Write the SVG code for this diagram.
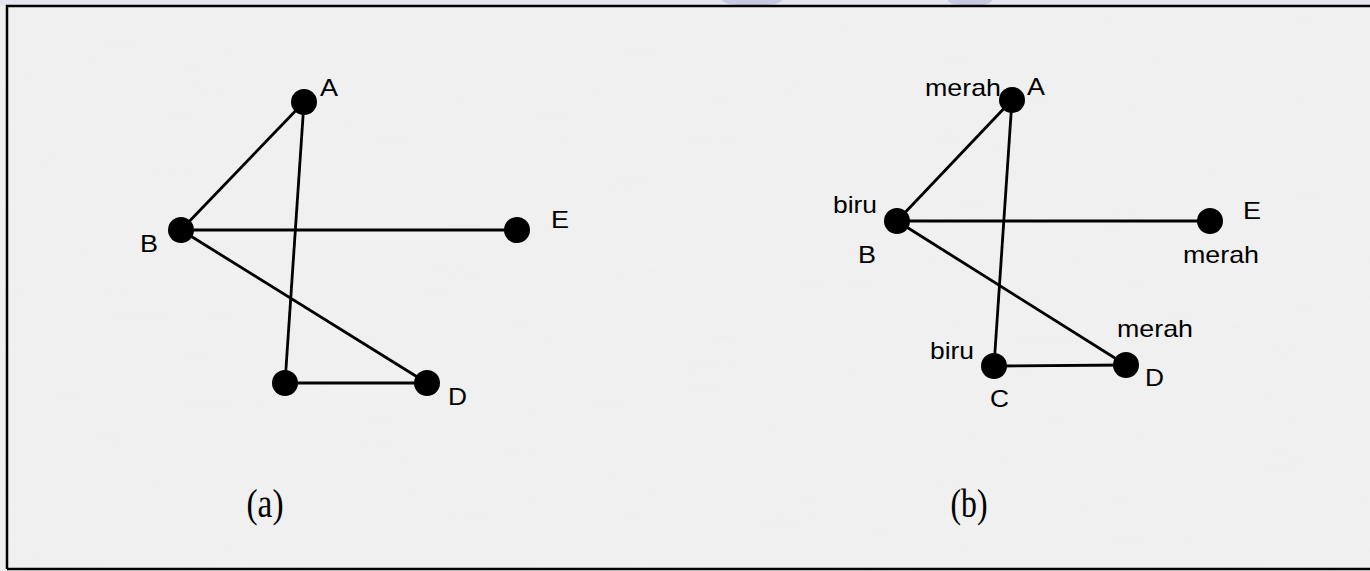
<svg xmlns="http://www.w3.org/2000/svg" width="1370" height="571" viewBox="0 0 1370 571">
<defs>
<filter id="tex" x="0" y="0" width="100%" height="100%">
<feTurbulence type="fractalNoise" baseFrequency="0.012 0.09" numOctaves="3" seed="7" result="n"/>
<feColorMatrix in="n" type="matrix" values="0 0 0 0 0.85  0 0 0 0 0.85  0 0 0 0 0.85  0 0 0 -1.6 0.9"/>
</filter>
<style>
.edge{stroke:#000;stroke-width:2.8;fill:none}
.dot{fill:#000}
.lbl{font-family:"Liberation Sans",Arial,sans-serif;font-size:24px;fill:#000}
.cap{font-family:"Liberation Serif","Times New Roman",serif;font-size:39px;fill:#000}
</style>
</defs>
<g id="background">
<rect x="0" y="0" width="1370" height="571" fill="#f0f0f0"/>
<rect x="0" y="0" width="1370" height="571" filter="url(#tex)" opacity="0.4"/>
<rect x="0" y="0" width="1370" height="6" fill="#e6e6f0"/>
<ellipse cx="752" cy="0" rx="30" ry="6" fill="#c8c8e0"/>
<ellipse cx="970" cy="0" rx="22" ry="6" fill="#c8c8e0"/>
<path d="M7,569 V6 H1372" fill="none" stroke="#000" stroke-width="2.5"/>
<path d="M7,569 H1372" fill="none" stroke="#000" stroke-width="2.5"/>
</g>
<g id="connectors">
<line class="edge" x1="304" y1="102" x2="181" y2="230"/>
<line class="edge" x1="304" y1="102" x2="285" y2="383"/>
<line class="edge" x1="181" y1="230" x2="517" y2="230"/>
<line class="edge" x1="181" y1="230" x2="427" y2="383"/>
<line class="edge" x1="285" y1="383" x2="427" y2="383"/>
<line class="edge" x1="1012" y1="100" x2="897" y2="221"/>
<line class="edge" x1="1012" y1="100" x2="994" y2="366"/>
<line class="edge" x1="897" y1="221" x2="1210" y2="221"/>
<line class="edge" x1="897" y1="221" x2="1126" y2="365"/>
<line class="edge" x1="994" y1="366" x2="1126" y2="365"/>
</g>
<g id="graph-a-A"><circle class="dot" cx="304" cy="102" r="13"/><text class="lbl" x="320" y="96" textLength="18" lengthAdjust="spacingAndGlyphs">A</text></g>
<g id="graph-a-B"><circle class="dot" cx="181" cy="230" r="13"/><text class="lbl" x="140" y="252" textLength="18" lengthAdjust="spacingAndGlyphs">B</text></g>
<g id="graph-a-C"><circle class="dot" cx="285" cy="383" r="13"/></g>
<g id="graph-a-D"><circle class="dot" cx="427" cy="383" r="13"/><text class="lbl" x="448" y="405" textLength="19" lengthAdjust="spacingAndGlyphs">D</text></g>
<g id="graph-a-E"><circle class="dot" cx="517" cy="230" r="13"/><text class="lbl" x="551" y="228" textLength="18" lengthAdjust="spacingAndGlyphs">E</text></g>
<g id="caption-a"><text class="cap" x="265" y="517" text-anchor="middle" textLength="37" lengthAdjust="spacingAndGlyphs">(a)</text></g>
<g id="graph-b-A"><circle class="dot" cx="1012" cy="100" r="13"/><text class="lbl" x="925" y="96" textLength="76" lengthAdjust="spacingAndGlyphs">merah</text><text class="lbl" x="1027" y="95" textLength="18" lengthAdjust="spacingAndGlyphs">A</text></g>
<g id="graph-b-B"><circle class="dot" cx="897" cy="221" r="13"/><text class="lbl" x="833" y="213" textLength="44" lengthAdjust="spacingAndGlyphs">biru</text><text class="lbl" x="858" y="263" textLength="18" lengthAdjust="spacingAndGlyphs">B</text></g>
<g id="graph-b-C"><circle class="dot" cx="994" cy="366" r="13"/><text class="lbl" x="930" y="359" textLength="44" lengthAdjust="spacingAndGlyphs">biru</text><text class="lbl" x="990" y="407" textLength="19" lengthAdjust="spacingAndGlyphs">C</text></g>
<g id="graph-b-D"><circle class="dot" cx="1126" cy="365" r="13"/><text class="lbl" x="1117" y="337" textLength="76" lengthAdjust="spacingAndGlyphs">merah</text><text class="lbl" x="1145" y="386" textLength="19" lengthAdjust="spacingAndGlyphs">D</text></g>
<g id="graph-b-E"><circle class="dot" cx="1210" cy="221" r="13"/><text class="lbl" x="1243" y="219" textLength="18" lengthAdjust="spacingAndGlyphs">E</text><text class="lbl" x="1183" y="263" textLength="76" lengthAdjust="spacingAndGlyphs">merah</text></g>
<g id="caption-b"><text class="cap" x="969" y="517" text-anchor="middle" textLength="37" lengthAdjust="spacingAndGlyphs">(b)</text></g>
</svg>
